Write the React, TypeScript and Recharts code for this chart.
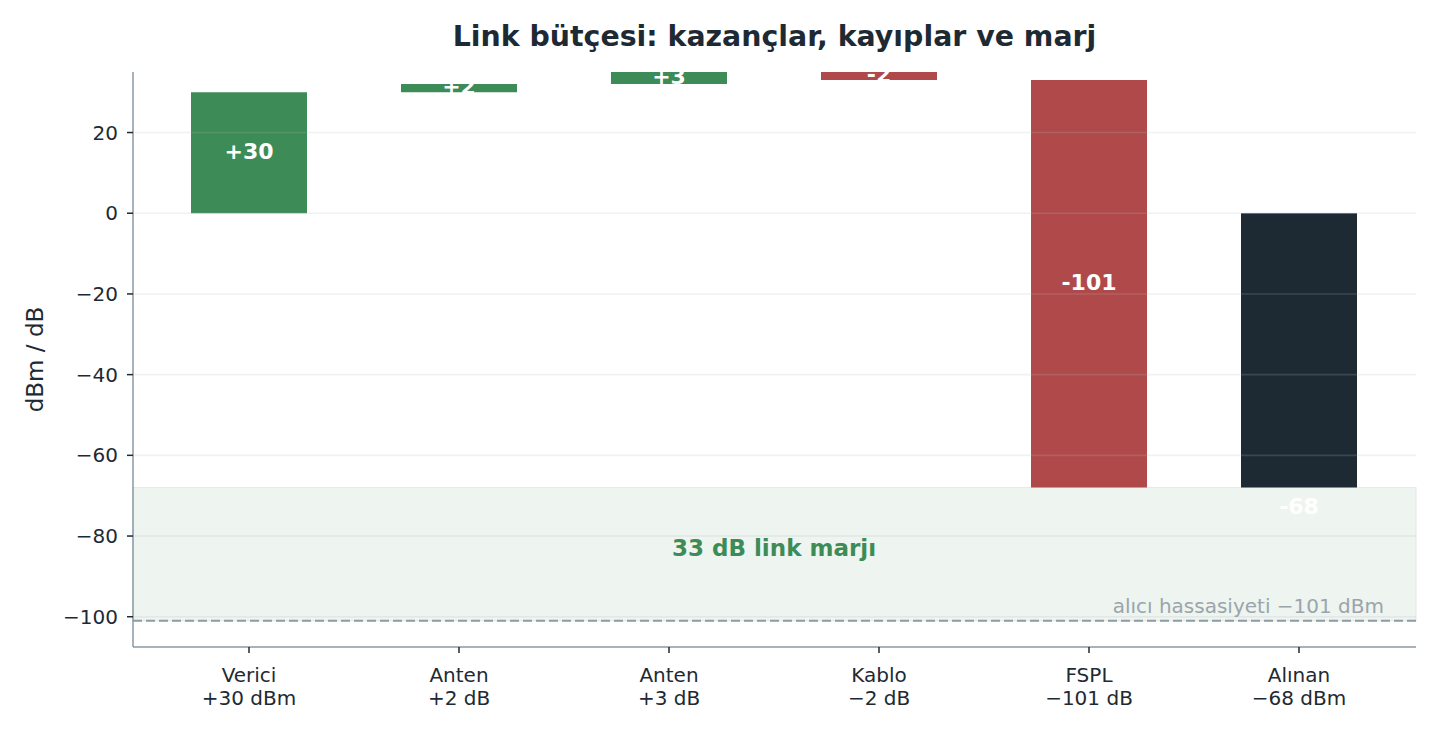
import { BarChart, Bar, XAxis, YAxis, Cell, LabelList, ReferenceArea, ReferenceLine } from "recharts";

if (typeof document !== "undefined") document.body.style.margin = "0";

const categories = ["Verici", "Anten", "Anten", "Kablo", "FSPL", "Alınan"];
const deltaLabels = ["+30 dBm", "+2 dB", "+3 dB", "−2 dB", "−101 dB", "−68 dBm"];
const steps = [30, 2, 3, -2, -101, -68];
const kinds: Array<"start" | "gain" | "loss" | "total"> = ["start", "gain", "gain", "loss", "loss", "total"];
const barLabels = ["+30", "+2", "+3", "-2", "-101", "-68"];
const yTicks = [-100, -80, -60, -40, -20, 0, 20];
const sensitivity = -101;
const received = -68;

const GREEN = "#3d8b57";
const RED = "#b04a4a";
const DARK = "#1e2a33";
const AXIS = "#8a99a3";
const FONT = "'DejaVu Sans', sans-serif";
const PAD_LEFT = 11;
const PAD_RIGHT = 12;

let level = 0;
const data = steps.map((s, i) => {
  let lo: number;
  let hi: number;
  if (kinds[i] === "total") {
    lo = Math.min(0, s);
    hi = Math.max(0, s);
  } else {
    const next = level + s;
    lo = Math.min(level, next);
    hi = Math.max(level, next);
    level = next;
  }
  return { id: String(i), range: [lo, hi], label: barLabels[i], kind: kinds[i] };
});

function colorOf(kind: string) {
  if (kind === "total") return DARK;
  if (kind === "loss") return RED;
  return GREEN;
}

function BarLabel(props: any) {
  const { x, y, width, height, value, index } = props;
  if (x === undefined || y === undefined) return null;
  const top = Math.min(y, y + height);
  const bottom = Math.max(y, y + height);
  const cx = x + width / 2;
  const cy = kinds[index] === "total" ? bottom + 20 : (top + bottom) / 2;
  return (
    <text x={cx} y={cy} dy="0.28em" textAnchor="middle" fill="#ffffff" fontSize={22} fontWeight="bold" fontFamily={FONT}>
      {value}
    </text>
  );
}

function CategoryTick({ x, y, payload }: any) {
  const i = payload.index;
  return (
    <g transform={`translate(${x},${y})`}>
      <text textAnchor="middle" fill={DARK} fontSize={20} fontFamily={FONT}>
        <tspan x={0} dy={27}>{categories[i]}</tspan>
        <tspan x={0} dy={23}>{deltaLabels[i]}</tspan>
      </text>
    </g>
  );
}

function YLabel({ viewBox }: any) {
  const cx = 35;
  const cy = viewBox.y + viewBox.height / 2;
  return (
    <text x={cx} y={cy} transform={`rotate(-90 ${cx} ${cy})`} dy="0.36em" textAnchor="middle" fill={DARK} fontSize={23} fontFamily={FONT}>
      dBm / dB
    </text>
  );
}

function MarginLabel({ viewBox }: any) {
  const cx = viewBox.x + viewBox.width / 2;
  const cy = viewBox.y + viewBox.height / 2;
  return (
    <text x={cx} y={cy + 2} textAnchor="middle" fill={GREEN} fontSize={23} fontWeight="bold" fontFamily={FONT}>
      {`${received - sensitivity} dB link marjı`}
    </text>
  );
}

function SensitivityLabel({ viewBox }: any) {
  return (
    <text x={viewBox.x + viewBox.width - 32} y={viewBox.y - 8} textAnchor="end" fill="#9aa5ab" fontSize={20} fontFamily={FONT}>
      {`alıcı hassasiyeti −${Math.abs(sensitivity)} dBm`}
    </text>
  );
}

// band spans the whole plot, including the axis padding
function BandShape({ x, y, width, height }: any) {
  return (
    <rect
      x={x - PAD_LEFT}
      y={y}
      width={width + PAD_LEFT + PAD_RIGHT}
      height={height}
      fill="#eef4ef"
      stroke="#e1e8e3"
      strokeWidth={1}
    />
  );
}

export default function App() {
  return (
    <div style={{ position: "relative", width: 1440, height: 736, background: "#fff", fontFamily: FONT }}>
      <div
        style={{
          position: "absolute",
          left: 133,
          width: 1283,
          top: 20,
          textAlign: "center",
          fontSize: 28.4,
          fontWeight: "bold",
          color: DARK,
          lineHeight: "34px",
        }}
      >
        Link bütçesi: kazançlar, kayıplar ve marj
      </div>
      <BarChart width={1440} height={736} data={data} margin={{ top: 72, right: 24, bottom: 0, left: 0 }} barSize={116}>
        <ReferenceArea y1={sensitivity} y2={received} shape={<BandShape />} label={<MarginLabel />} />
        <XAxis
          dataKey="id"
          height={89}
          padding={{ left: PAD_LEFT, right: PAD_RIGHT }}
          axisLine={{ stroke: AXIS, strokeWidth: 1.5 }}
          tickLine={{ stroke: DARK, strokeWidth: 1.5 }}
          tickSize={6}
          tick={<CategoryTick />}
          interval={0}
        />
        <YAxis
          type="number"
          domain={[-107.5, 35]}
          ticks={yTicks}
          width={133}
          axisLine={{ stroke: AXIS, strokeWidth: 1.5 }}
          tickLine={{ stroke: DARK, strokeWidth: 1.5 }}
          tickSize={6}
          tickMargin={9}
          tickFormatter={(v: number) => (v < 0 ? `−${Math.abs(v)}` : String(v))}
          tick={{ fill: DARK, fontSize: 20, fontFamily: FONT }}
          label={<YLabel />}
          allowDataOverflow
        />
        <Bar dataKey="range" isAnimationActive={false}>
          {data.map((d) => (
            <Cell key={d.id} fill={colorOf(d.kind)} />
          ))}
          <LabelList dataKey="label" content={<BarLabel />} />
        </Bar>
        {yTicks.map((t) => (
          <ReferenceLine key={t} y={t} stroke="#afb9bd" strokeOpacity={0.2} strokeWidth={1.6} />
        ))}
        <ReferenceLine
          y={sensitivity}
          stroke="#8d9ba5"
          strokeWidth={2}
          strokeDasharray="9 4"
          label={<SensitivityLabel />}
        />
      </BarChart>
    </div>
  );
}
